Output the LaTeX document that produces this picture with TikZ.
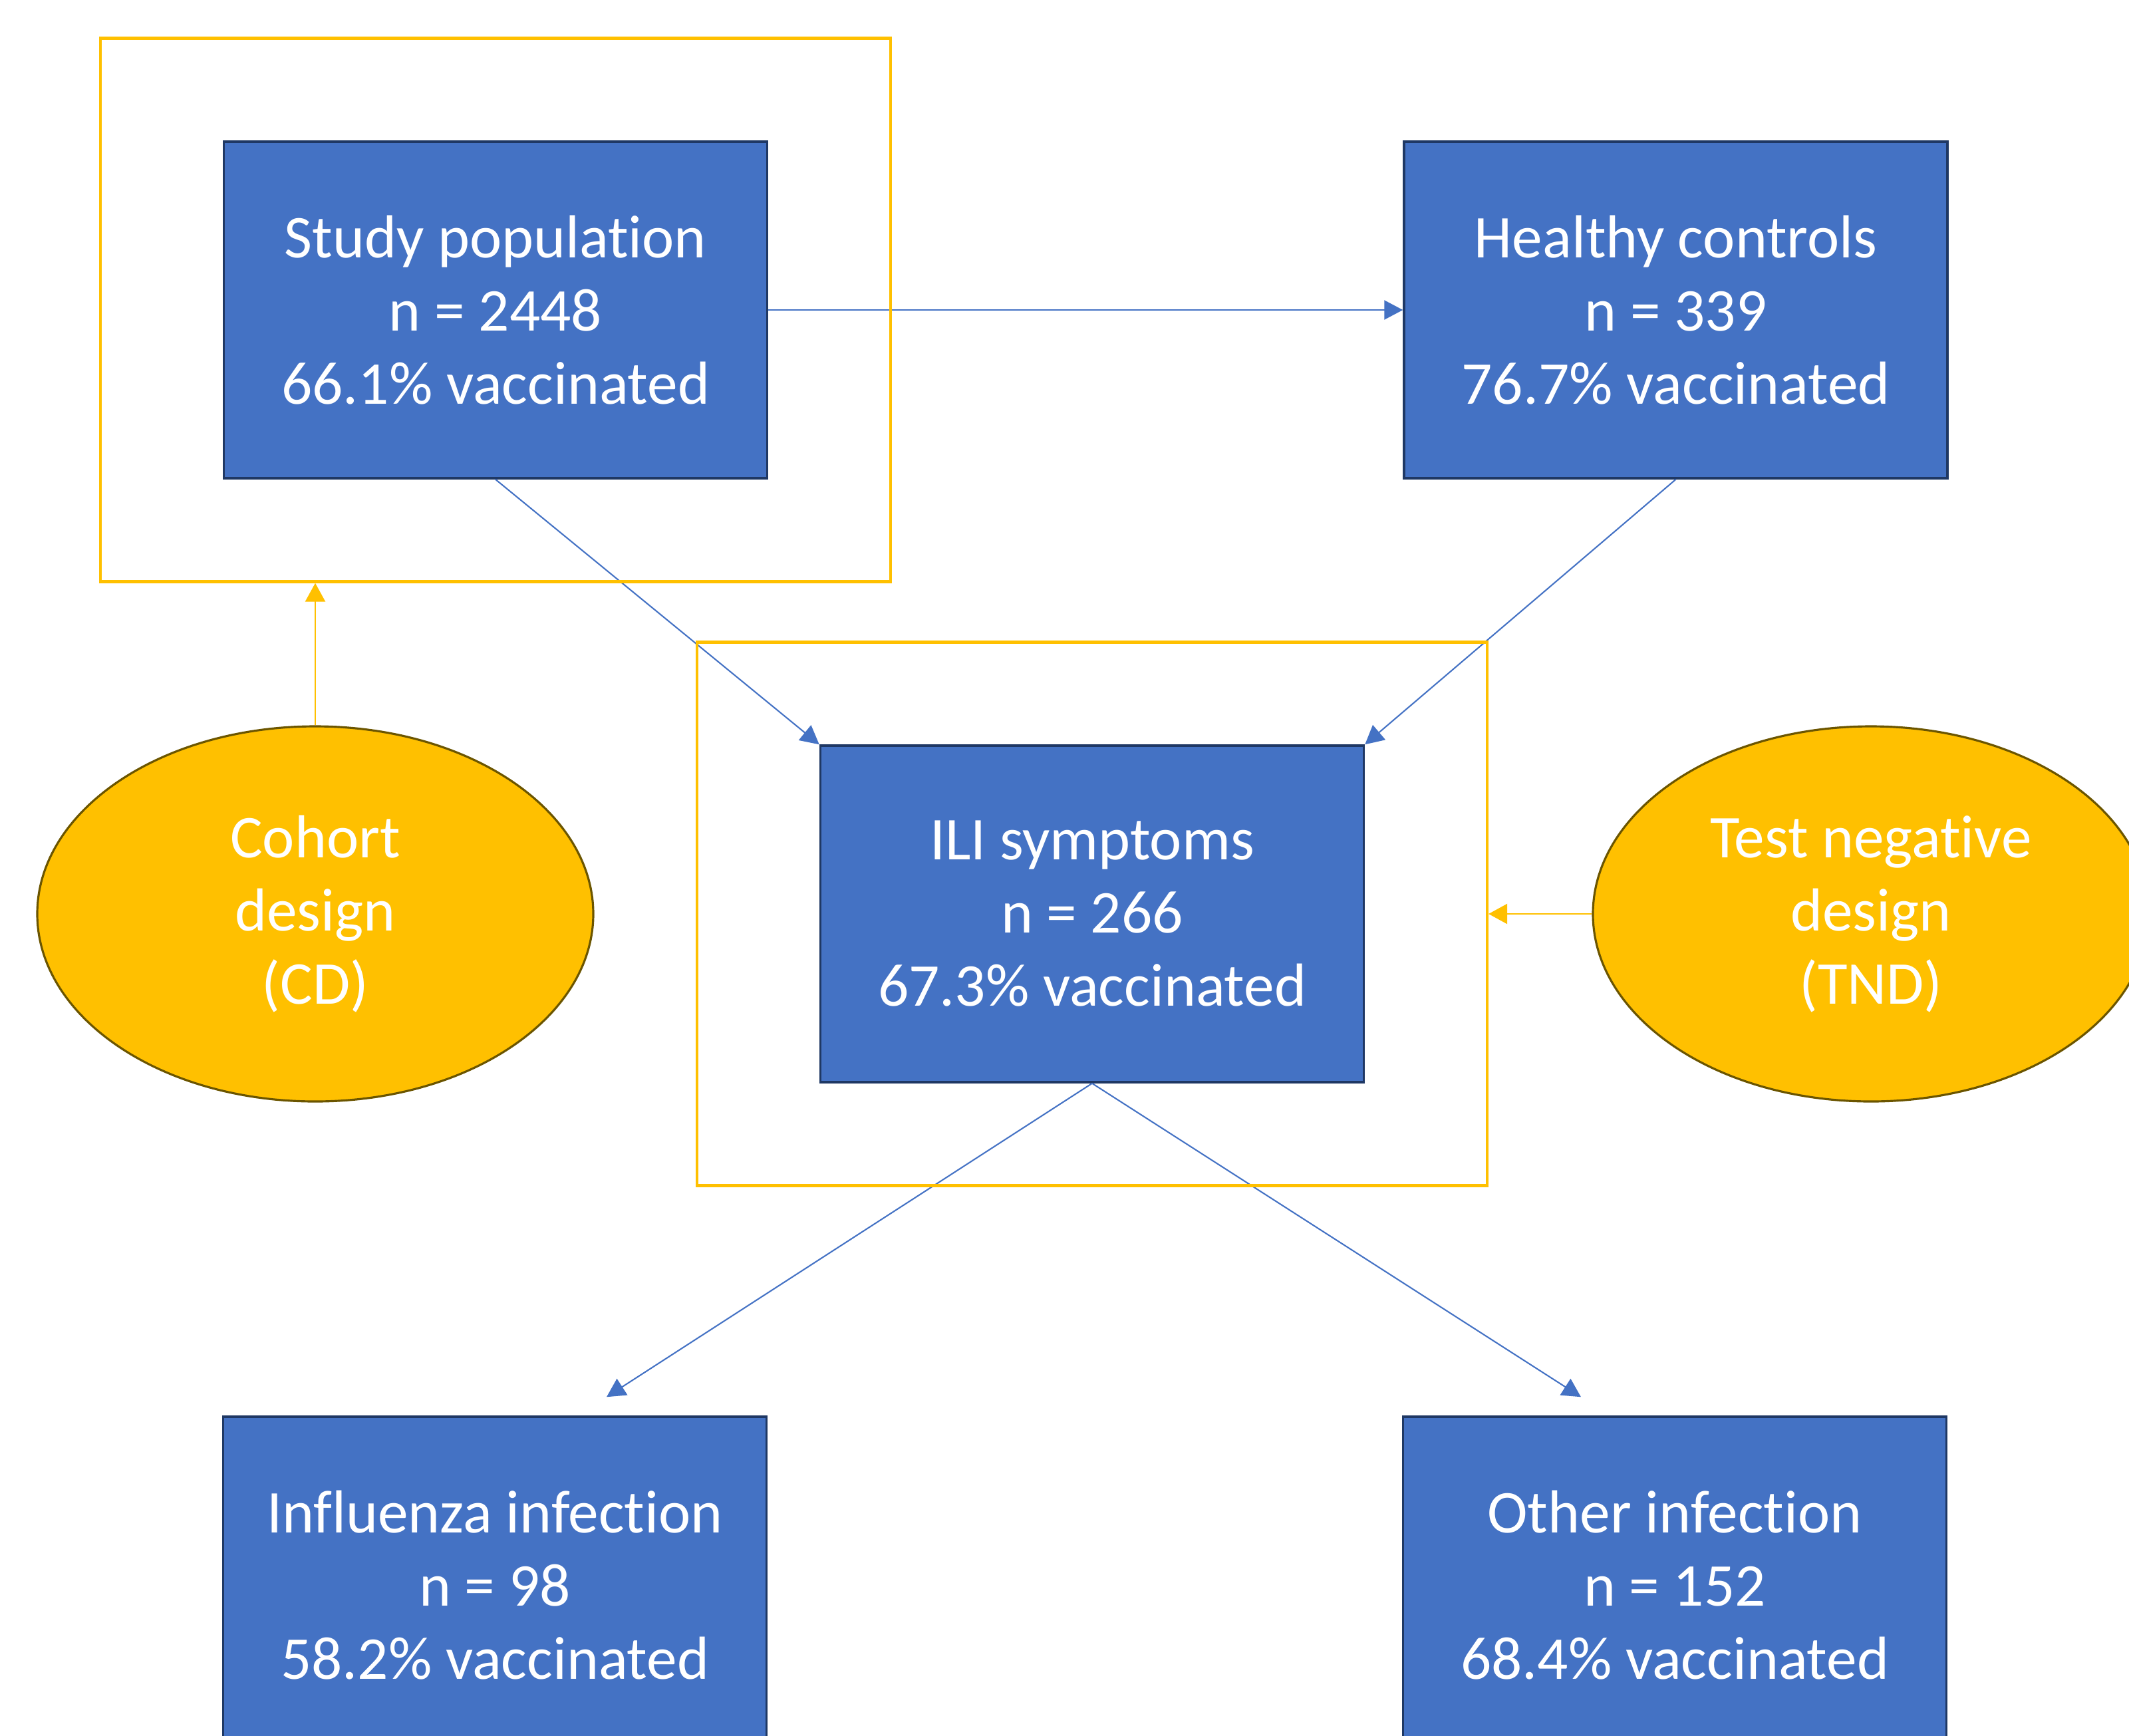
\documentclass[tikz,border=0pt]{standalone}
\usepackage{fontspec}
\setmainfont{Carlito}[RawFeature={-liga;-clig;-calt;-dlig}]
\usetikzlibrary{positioning}
\usetikzlibrary{arrows.meta}
\usetikzlibrary{shapes.geometric}

\definecolor{boxblue}{HTML}{4472C4}
\definecolor{boxedge}{HTML}{1F3864}
\definecolor{gold}{HTML}{FFC000}
\definecolor{goldedge}{HTML}{6B5500}

\tikzset{
  group/.style={rectangle, fill=boxblue, draw=boxedge, line width=1pt,
    text=white, align=center, inner sep=0pt,
    minimum width=8.17cm, minimum height=5.06cm,
    font=\fontsize{26}{31.3}\selectfont},
  design/.style={ellipse, fill=gold, draw=goldedge, line width=0.9pt,
    text=white, align=center, inner sep=0pt,
    minimum width=8.36cm, minimum height=5.64cm,
    font=\fontsize{26}{31.3}\selectfont},
  frame/.style={rectangle, draw=gold, line width=1.2pt, inner sep=0pt,
    minimum width=11.88cm, minimum height=8.17cm},
  flow/.style={draw=boxblue, line width=0.6pt,
    -{Triangle[length=0.28cm,width=0.29cm]}},
  pick/.style={draw=gold, line width=0.7pt,
    -{Triangle[length=0.28cm,width=0.3cm]}}
}

\begin{document}
\begin{tikzpicture}
\useasboundingbox (0,0) rectangle (32.01,-26.09);

\node[group] (studypop) at (7.45,-4.66) {Study population\\n = 2448\\66.1\% vaccinated};
\node[group, right=9.54cm of studypop] (healthy) {Healthy controls\\n = 339\\76.7\% vaccinated};
\node[group] (ili) at (16.42,-13.74) {ILI symptoms\\n = 266\\67.3\% vaccinated};
\node[group] (influenza) at (7.44,-23.83) {Influenza infection\\n = 98\\58.2\% vaccinated};
\node[group] (other) at (25.18,-23.83) {Other infection\\n = 152\\68.4\% vaccinated};

\node[design] (cohort) at (4.74,-13.74) {Cohort\\design\\(CD)};
\node[design] (tnd) at (28.13,-13.74) {Test negative\\design\\(TND)};

\coordinate[above right=0.28cm and 1.68cm of influenza.north] (fluin);
\coordinate[above left=0.28cm and 1.41cm of other.north] (otherin);

\draw[flow] (studypop.east) -- (healthy.west);
\draw[flow] (studypop.south) -- (ili.north west);
\draw[flow] (healthy.south) -- (ili.north east);
\draw[flow] (ili.south) -- (fluin);
\draw[flow] (ili.south) -- (otherin);

\node[frame] (cdframe) at (studypop) {};
\node[frame] (tndframe) at (ili) {};

\draw[pick] (cohort.north) -- (cohort.north |- cdframe.south);
\draw[pick] (tnd.west) -- (tnd.west -| tndframe.east);
\end{tikzpicture}
\end{document}
